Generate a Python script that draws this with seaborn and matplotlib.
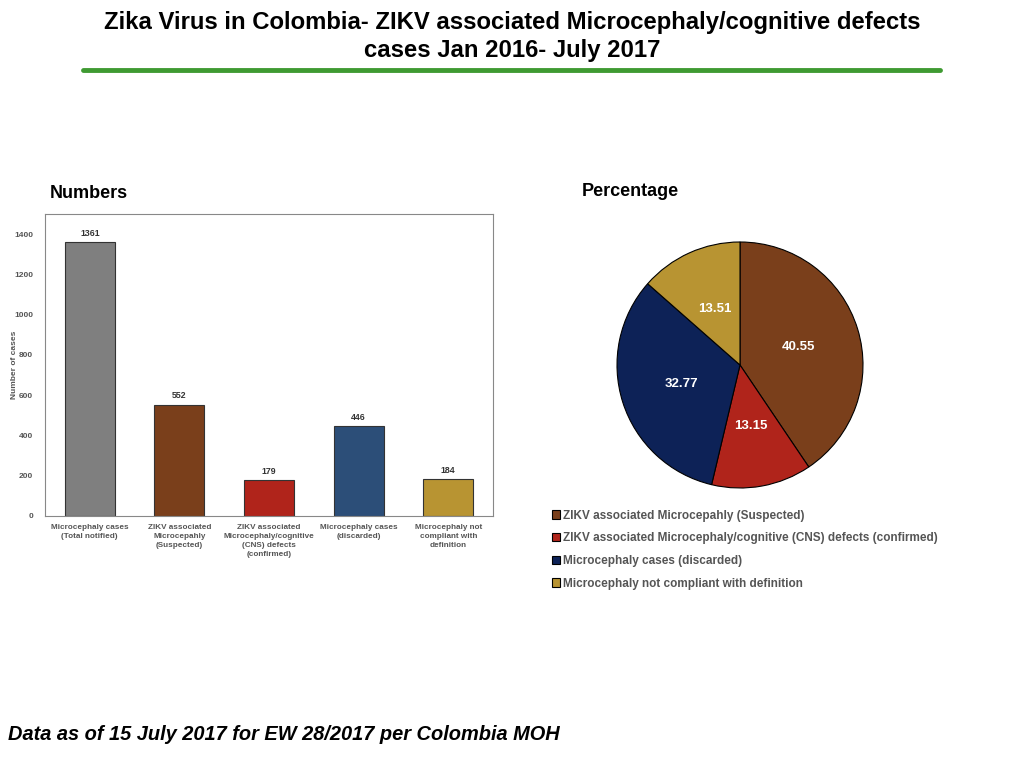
import numpy as np
import pandas as pd
import matplotlib
matplotlib.use('Agg')
import matplotlib.pyplot as plt
import seaborn as sns

categories = ['Microcephaly cases\n(Total notified)',
              'ZIKV associated\nMicrocepahly\n(Suspected)',
              'ZIKV associated\nMicrocephaly/cognitive\n(CNS) defects\n(confirmed)',
              'Microcephaly cases\n(discarded)',
              'Microcephaly not\ncompliant with\ndefinition']
cases = [1361, 552, 179, 446, 184]
bar_colors = ['#7f7f7f', '#7a3f1b', '#b0241b', '#2c4e78', '#b89432']

pie_labels = ['ZIKV associated Microcepahly (Suspected)',
              'ZIKV associated Microcephaly/cognitive (CNS) defects (confirmed)',
              'Microcephaly cases (discarded)',
              'Microcephaly not compliant with definition']
pie_values = [40.55, 13.15, 32.77, 13.51]
pie_colors = ['#7a3f1b', '#b0241b', '#0d2257', '#b89432']

sns.set_style('white')
plt.rcParams['font.family'] = ['Liberation Sans', 'DejaVu Sans']

fig = plt.figure(figsize=(10.24, 7.68), dpi=100)

# title + green rule
fig.text(0.5, 1-11/768, 'Zika Virus in Colombia- ZIKV associated Microcephaly/cognitive defects\ncases Jan 2016- July 2017',
         ha='center', va='top', fontsize=17.2, fontweight='bold', linespacing=1.25, color='black')
fig.add_artist(plt.Line2D([83/1024, 940/1024], [1-70/768, 1-70/768], color='#3f9a32', lw=3.5))

# bar chart
df = pd.DataFrame({'cat': categories, 'n': cases})
ax = fig.add_axes([45/1024, 1-516/768, 448/1024, 302/768])
sns.barplot(data=df, x='cat', y='n', hue='cat', palette=bar_colors, legend=False, saturation=1,
            width=0.56, edgecolor='#333333', linewidth=0.8, ax=ax)
ax.set_ylim(0, 1500)
ax.set_xlim(-0.5, 4.5)
ax.set_yticks(range(0, 1401, 200))
ax.set_xticks(range(len(categories)))
ax.set_xticklabels(categories, fontsize=5.9, fontweight='bold', color='#555555', linespacing=1.45)
ax.tick_params(axis='y', labelsize=6, pad=5)
ax.tick_params(axis='x', pad=2)
for lbl in ax.get_yticklabels():
    lbl.set_fontweight('bold')
    lbl.set_color('#555555')
ax.set_xlabel('')
ax.set_ylabel('')
fig.text(15/1024, 1-365/768, 'Number of cases', rotation=90, ha='center', va='center',
         fontsize=6, fontweight='bold', color='#555555')
for s in ax.spines.values():
    s.set_color('#888888')
    s.set_linewidth(0.8)
for i, v in enumerate(cases):
    ax.text(i, v + 22, str(v), ha='center', va='bottom', fontsize=6.3, fontweight='bold', color='#333333')

fig.text(50/1024, 1-193/768, 'Numbers', ha='left', va='center', fontsize=13, fontweight='bold', color='black')
fig.text(582/1024, 1-191/768, 'Percentage', ha='left', va='center', fontsize=13, fontweight='bold', color='black')

# pie chart
pax = fig.add_axes([(740-123)/1024, 1-(365+123)/768, 246/1024, 246/768])
wedges, _ = pax.pie(pie_values, colors=pie_colors, startangle=90, counterclock=False,
                    wedgeprops=dict(edgecolor='black', linewidth=0.8))
pax.set_xlim(-1, 1)
pax.set_ylim(-1, 1)
pax.set_aspect('equal')
for w, v in zip(wedges, pie_values):
    ang = np.deg2rad((w.theta1 + w.theta2) / 2)
    pax.text(0.5 * np.cos(ang), 0.5 * np.sin(ang), f'{v:.2f}', ha='center', va='center',
             color='white', fontweight='bold', fontsize=9.5)

fig.legend(wedges, pie_labels, loc='upper left', bbox_to_anchor=(541/1024, 1-499/768),
           frameon=False, handlelength=0.7, handleheight=0.7, handletextpad=0.3,
           labelspacing=0.9, prop=dict(size=8.5, weight='bold'), labelcolor='#555555')

fig.text(8/1024, 1-734/768, 'Data as of 15 July 2017 for EW 28/2017 per Colombia MOH',
         ha='left', va='center', fontsize=14.4, fontweight='bold', style='italic', color='black')

fig.savefig('out.png', dpi=100)
